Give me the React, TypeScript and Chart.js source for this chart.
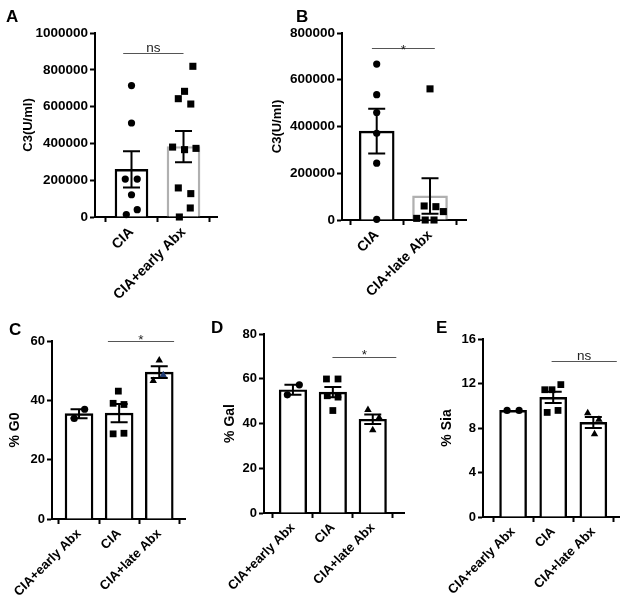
import React, { useEffect, useRef } from 'react';
import { Chart, registerables } from 'chart.js';
Chart.register(...registerables);

const FONT = "'Liberation Sans', Arial, Helvetica, sans-serif";

// ---------- Panel A ----------
const catsA = ['CIA', 'CIA+early Abx'];
const meanA = [259000, 383000];
const semA = [98000, 85000];
const ptsA_cia = [714000, 511000, 206000, 206000, 121000, 40000, 13000];
const jitA_cia = [0, 0, -0.12, 0.11, 0, 0.11, -0.1];
const ptsA_early = [819000, 683000, 643000, 614000, 380000, 366000, 373000, 158000, 127000, 49000, 0];
const jitA_early = [0.18, 0.02, -0.1, 0.14, -0.21, 0.02, 0.24, -0.1, 0.14, 0.13, -0.08];
const ticksA = [0, 200000, 400000, 600000, 800000, 1000000];

// ---------- Panel B ----------
const catsB = ['CIA', 'CIA+late Abx'];
const meanB = [380000, 103000];
const semB = [96000, 76000];
const ptsB_cia = [667000, 536000, 460000, 371000, 243000, 3000];
const jitB_cia = [0, 0, 0, 0, 0, 0];
const ptsB_late = [561000, 60000, 57000, 36000, 7000, 0, 0];
const jitB_late = [0, -0.11, 0.11, 0.25, -0.25, -0.09, 0.075];
const ticksB = [0, 200000, 400000, 600000, 800000];

// ---------- Panels C, D, E ----------
const catsCDE = ['CIA+early Abx', 'CIA', 'CIA+late Abx'];

const meanC = [35.5, 35.7, 49.5];
const semC = [1.5, 3.1, 2.0];
const ptsC_early = [33.9, 37.0];
const jitC_early = [-0.12, 0.14];
const ptsC_cia = [43.1, 39.0, 38.6, 28.7, 28.9];
const jitC_cia = [-0.02, -0.15, 0.12, -0.15, 0.12];
const ptsC_late = [53.5, 46.6, 48.5];
const jitC_late = [0, -0.15, 0.1];
const ticksC = [0, 20, 40, 60];

const meanD = [55.1, 54.0, 41.9];
const semD = [2.2, 2.3, 2.1];
const ptsD_early = [52.8, 57.3];
const jitD_early = [-0.14, 0.16];
const ptsD_cia = [59.9, 59.9, 52.4, 51.8, 45.8];
const jitD_cia = [-0.16, 0.13, -0.14, 0.13, 0];
const ptsD_late = [46.1, 42.6, 37.1];
const jitD_late = [-0.12, 0.16, 0];
const ticksD = [0, 20, 40, 60, 80];

const meanE = [9.58, 10.75, 8.5];
const semE = [0, 0.5, 0.5];
const ptsE_early = [9.58, 9.58];
const jitE_early = [-0.15, 0.15];
const ptsE_cia = [11.44, 11.44, 11.9, 9.4, 9.58];
const jitE_cia = [-0.21, -0.03, 0.19, -0.15, 0.12];
const ptsE_late = [9.35, 8.75, 7.46];
const jitE_late = [-0.14, 0.14, 0.03];
const ticksE = [0, 4, 8, 12, 16];

type Group = { values: number[]; jitter: number[]; style: string; radius: number; colors?: string[] };
type PanelCfg = {
  letter: string;
  letterPos: [number, number];
  box: { left: number; top: number; width: number; height: number };
  yAxisWidth: number; padTop: number; padRight: number; xAxisHeight: number; titlePad: number;
  title: string;
  cats: string[]; means: number[]; sems: number[]; barColors: string[]; barThickness: number;
  groups: Group[];
  yMax: number; yTicks: number[]; xMin: number; xMax: number;
  sig: { y: number; x0: number; x1: number; text: string; dy: number };
  tickSize: number; labelSize: number; titleSize: number;
};

const GRAY = '#b0b0b0';

const panels: PanelCfg[] = [
  {
    letter: 'A', letterPos: [6, 8],
    box: { left: 0, top: 0, width: 225, height: 300 },
    yAxisWidth: 95, padTop: 33, padRight: 8, xAxisHeight: 83, titlePad: 21,
    title: 'C3(U/ml)',
    cats: catsA, means: meanA, sems: semA, barColors: ['#000', GRAY], barThickness: 33,
    groups: [
      { values: ptsA_cia, jitter: jitA_cia, style: 'circle', radius: 3.6 },
      { values: ptsA_early, jitter: jitA_early, style: 'rect', radius: 5 },
    ],
    yMax: 1000000, yTicks: ticksA, xMin: -0.702, xMax: 1.644,
    sig: { y: 890000, x0: -0.16, x1: 1.0, text: 'ns', dy: -1.5 },
    tickSize: 13.5, labelSize: 14, titleSize: 13,
  },
  {
    letter: 'B', letterPos: [296, 8],
    box: { left: 262, top: 0, width: 214, height: 300 },
    yAxisWidth: 80, padTop: 33, padRight: 10, xAxisHeight: 80, titlePad: 8,
    title: 'C3(U/ml)',
    cats: catsB, means: meanB, sems: semB, barColors: ['#000', GRAY], barThickness: 35,
    groups: [
      { values: ptsB_cia, jitter: jitB_cia, style: 'circle', radius: 3.6 },
      { values: ptsB_late, jitter: jitB_late, style: 'rect', radius: 5 },
    ],
    yMax: 800000, yTicks: ticksB, xMin: -0.651, xMax: 1.675,
    sig: { y: 737000, x0: -0.09, x1: 1.09, text: '*', dy: 5 },
    tickSize: 13.5, labelSize: 14, titleSize: 13,
  },
  {
    letter: 'C', letterPos: [9, 321],
    box: { left: 0, top: 310, width: 195, height: 295 },
    yAxisWidth: 52, padTop: 31, padRight: 10, xAxisHeight: 86, titlePad: 6.6,
    title: '% G0',
    cats: catsCDE, means: meanC, sems: semC, barColors: ['#000', '#000', '#000'], barThickness: 28,
    groups: [
      { values: ptsC_early, jitter: jitC_early, style: 'circle', radius: 3.6 },
      { values: ptsC_cia, jitter: jitC_cia, style: 'rect', radius: 4.8 },
      { values: ptsC_late, jitter: jitC_late, style: 'triangle', radius: 4.3, colors: ['#000', '#000', '#1f3b73'] },
    ],
    yMax: 60, yTicks: ticksC, xMin: -0.674, xMax: 2.642,
    sig: { y: 60, x0: 0.72, x1: 2.37, text: '*', dy: 2 },
    tickSize: 13, labelSize: 13, titleSize: 14,
  },
  {
    letter: 'D', letterPos: [211, 319],
    box: { left: 210, top: 310, width: 205, height: 295 },
    yAxisWidth: 54, padTop: 24, padRight: 11, xAxisHeight: 92, titlePad: 11.6,
    title: '% Gal',
    cats: catsCDE, means: meanD, sems: semD, barColors: ['#000', '#000', '#000'], barThickness: 27.5,
    groups: [
      { values: ptsD_early, jitter: jitD_early, style: 'circle', radius: 3.6 },
      { values: ptsD_cia, jitter: jitD_cia, style: 'rect', radius: 4.8 },
      { values: ptsD_late, jitter: jitD_late, style: 'triangle', radius: 4.3 },
    ],
    yMax: 80, yTicks: ticksD, xMin: -0.725, xMax: 2.783,
    sig: { y: 69.7, x0: 0.99, x1: 2.59, text: '*', dy: 1.6 },
    tickSize: 13, labelSize: 13, titleSize: 14,
  },
  {
    letter: 'E', letterPos: [436, 319],
    box: { left: 420, top: 310, width: 207, height: 295 },
    yAxisWidth: 63, padTop: 29, padRight: 8, xAxisHeight: 88, titlePad: 18.9,
    title: '% Sia',
    cats: catsCDE, means: meanE, sems: semE, barColors: ['#000', '#000', '#000'], barThickness: 27,
    groups: [
      { values: ptsE_early, jitter: jitE_early, style: 'circle', radius: 3.6 },
      { values: ptsE_cia, jitter: jitE_cia, style: 'rect', radius: 4.8 },
      { values: ptsE_late, jitter: jitE_late, style: 'triangle', radius: 4.3 },
    ],
    yMax: 16, yTicks: ticksE, xMin: -0.75, xMax: 2.64,
    sig: { y: 14, x0: 0.96, x1: 2.585, text: 'ns', dy: -1.7 },
    tickSize: 13, labelSize: 13, titleSize: 14,
  },
];

function Panel({ cfg }: { cfg: PanelCfg }) {
  const ref = useRef<HTMLCanvasElement>(null);
  useEffect(() => {
    const canvas = ref.current!;
    const datasets: any[] = [
      {
        type: 'bar',
        data: cfg.means.map((m, i) => ({ x: i, y: m })),
        backgroundColor: '#ffffff',
        borderColor: cfg.barColors,
        borderWidth: 2.4,
        barThickness: cfg.barThickness,
        borderSkipped: 'start',
        order: 2,
      },
      ...cfg.groups.map((g, gi) => ({
        type: 'scatter',
        data: g.values.map((v, k) => ({ x: gi + g.jitter[k], y: v })),
        pointStyle: g.style,
        pointRadius: g.radius,
        pointBackgroundColor: g.colors ?? '#000',
        pointBorderColor: g.colors ?? '#000',
        pointBorderWidth: 0,
        order: 1,
        clip: false,
      })),
    ];

    const errorBars = {
      id: 'errorBars',
      afterDatasetsDraw(chart: any) {
        const { ctx } = chart;
        const xs = chart.scales.x;
        const ys = chart.scales.y;
        ctx.save();
        ctx.strokeStyle = '#000';
        ctx.lineWidth = 2;
        cfg.means.forEach((m, i) => {
          const s = cfg.sems[i];
          if (!s) return;
          const px = xs.getPixelForValue(i);
          const top = ys.getPixelForValue(m + s);
          const bot = ys.getPixelForValue(m - s);
          const hw = 8.5;
          ctx.beginPath();
          ctx.moveTo(px, top); ctx.lineTo(px, bot);
          ctx.moveTo(px - hw, top); ctx.lineTo(px + hw, top);
          ctx.moveTo(px - hw, bot); ctx.lineTo(px + hw, bot);
          ctx.stroke();
        });
        ctx.restore();
      },
    };

    const sigPlugin = {
      id: 'sig',
      afterDraw(chart: any) {
        const { ctx } = chart;
        const xs = chart.scales.x;
        const ys = chart.scales.y;
        const sg = cfg.sig;
        const x0 = xs.getPixelForValue(sg.x0);
        const x1 = xs.getPixelForValue(sg.x1);
        const y = Math.round(ys.getPixelForValue(sg.y)) + 0.5;
        ctx.save();
        ctx.strokeStyle = '#555';
        ctx.lineWidth = 1.2;
        ctx.beginPath();
        ctx.moveTo(x0, y); ctx.lineTo(x1, y);
        ctx.stroke();
        ctx.fillStyle = '#222';
        ctx.font = `13.5px ${FONT}`;
        ctx.textAlign = 'center';
        ctx.textBaseline = 'alphabetic';
        ctx.fillText(sg.text, (x0 + x1) / 2, y + sg.dy);
        ctx.restore();
      },
    };

    const axisCommon = {
      grid: { drawOnChartArea: false, drawTicks: true, tickLength: 5, tickWidth: 2, tickColor: '#000' },
      border: { display: true, width: 2, color: '#000' },
    };

    const chart = new Chart(canvas, {
      type: 'bar',
      data: { datasets },
      options: {
        responsive: false,
        animation: false,
        events: [],
        layout: { padding: { top: cfg.padTop, right: cfg.padRight, left: 0, bottom: 0 } },
        plugins: { legend: { display: false }, tooltip: { enabled: false } },
        scales: {
          x: {
            type: 'linear',
            min: cfg.xMin,
            max: cfg.xMax,
            offset: false,
            afterBuildTicks: (s: any) => { s.ticks = cfg.cats.map((_, i) => ({ value: i })); },
            afterFit: (s: any) => { s.height = cfg.xAxisHeight; s.paddingLeft = 0; s.paddingRight = 0; },
            ticks: {
              callback: (v: any) => cfg.cats[Math.round(Number(v))] ?? '',
              minRotation: 45,
              maxRotation: 45,
              autoSkip: false,
              padding: 2,
              color: '#000',
              font: { family: FONT, size: cfg.labelSize, weight: 'bold' },
            },
            ...axisCommon,
          },
          y: {
            type: 'linear',
            min: 0,
            max: cfg.yMax,
            afterBuildTicks: (s: any) => { s.ticks = cfg.yTicks.map((v) => ({ value: v })); },
            afterFit: (s: any) => { s.width = cfg.yAxisWidth; s.paddingTop = 0; s.paddingBottom = 0; },
            ticks: {
              callback: (v: any) => String(v),
              padding: 2,
              color: '#000',
              font: { family: FONT, size: cfg.tickSize, weight: 'bold' },
            },
            title: {
              display: true,
              text: cfg.title,
              color: '#000',
              font: { family: FONT, size: cfg.titleSize, weight: 'bold' },
              padding: { top: cfg.titlePad, bottom: 0 },
            },
            ...axisCommon,
          },
        },
      } as any,
      plugins: [errorBars, sigPlugin],
    });
    return () => chart.destroy();
  }, [cfg]);

  const b = cfg.box;
  return (
    <>
      <canvas
        ref={ref}
        width={b.width}
        height={b.height}
        style={{ position: 'absolute', left: b.left, top: b.top, width: b.width, height: b.height }}
      />
      <div
        style={{
          position: 'absolute', left: cfg.letterPos[0], top: cfg.letterPos[1],
          fontFamily: FONT, fontWeight: 'bold', fontSize: 17, lineHeight: 1, color: '#000',
        }}
      >
        {cfg.letter}
      </div>
    </>
  );
}

export default function App() {
  return (
    <div style={{ position: 'absolute', left: 0, top: 0, width: 627, height: 605, background: '#fff', overflow: 'hidden' }}>
      {panels.map((p) => <Panel key={p.letter} cfg={p} />)}
    </div>
  );
}
